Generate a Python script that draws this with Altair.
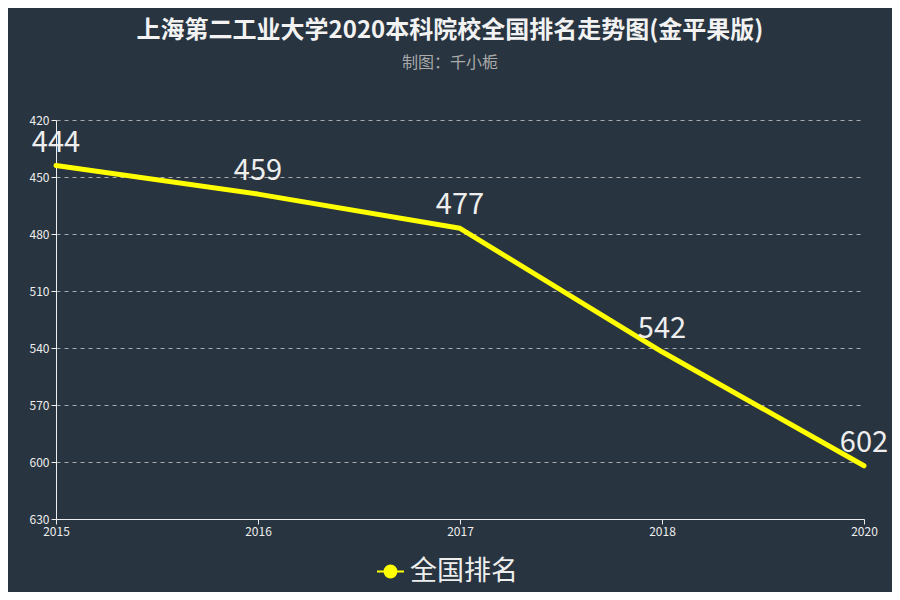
import altair as alt
import pandas as pd

years = ["2015", "2016", "2017", "2018", "2020"]
ranks = [444, 459, 477, 542, 602]
series_name = "全国排名"
y_ticks = [420, 450, 480, 510, 540, 570, 600, 630]

df = pd.DataFrame({"year": years, "rank": ranks, "series": [series_name] * len(years)})

FONT = "Noto Sans CJK SC"
BG = "#283440"

x_enc = alt.X("year:O", sort=years, scale=alt.Scale(type="point", padding=0),
              axis=alt.Axis(title=None, labelAngle=0, labelColor="#eeeeee", labelFontSize=12,
                            domainColor="#eeeeee", tickColor="#eeeeee", tickSize=5,
                            labelPadding=2, grid=False, labelFont=FONT))
y_enc = alt.Y("rank:Q", scale=alt.Scale(domain=[420, 630], reverse=True, nice=False, zero=False),
              axis=alt.Axis(title=None, values=y_ticks, labelColor="#eeeeee", labelFontSize=12,
                            domainColor="#eeeeee", tickColor="#eeeeee", tickSize=5,
                            labelPadding=2, grid=True, gridColor="#aaaaaa", gridDash=[4, 4],
                            gridWidth=1, labelFont=FONT))

legend_path = ("M-1,0L-0.44,0M0.44,0L1,0"
               "M-0.44,0A0.44,0.44,0,1,1,0.44,0A0.44,0.44,0,1,1,-0.44,0Z")

line = alt.Chart(df).mark_line(strokeWidth=5, strokeCap="round", strokeJoin="round").encode(
    x=x_enc,
    y=y_enc,
    color=alt.Color("series:N", scale=alt.Scale(domain=[series_name], range=["#ffff00"]),
                    legend=alt.Legend(title=None, orient="none", legendX=320, legendY=437,
                                      symbolType=legend_path, symbolSize=729,
                                      symbolStrokeWidth=2, symbolFillColor="#ffff00",
                                      symbolStrokeColor="#ffff00",
                                      labelFontSize=27, labelColor="#eeeeee", labelFont=FONT,
                                      labelOffset=5)),
)

labels = alt.Chart(df).mark_text(fontSize=29, color="#eeeeee", dy=-23, font=FONT).encode(
    x=alt.X("year:O", sort=years),
    y="rank:Q",
    text="rank:Q",
)

chart = (line + labels).properties(
    width=808,
    height=399,
    padding={"left": 48, "top": 112, "right": 28, "bottom": 73},
    autosize=alt.AutoSizeParams(type="none"),
    background=BG,
    title=alt.TitleParams(
        text="上海第二工业大学2020本科院校全国排名走势图(金平果版)",
        subtitle="制图：千小栀",
        fontSize=24, fontWeight="bold", color="#f2f2f2", font=FONT,
        subtitleFontSize=16, subtitleColor="#aaaaaa", subtitleFont=FONT,
        subtitlePadding=12, anchor="middle", dx=-10, offset=43,
    ),
).configure_view(stroke=None)

chart.save("out.html", embed_options={"renderer": "svg", "actions": False})
